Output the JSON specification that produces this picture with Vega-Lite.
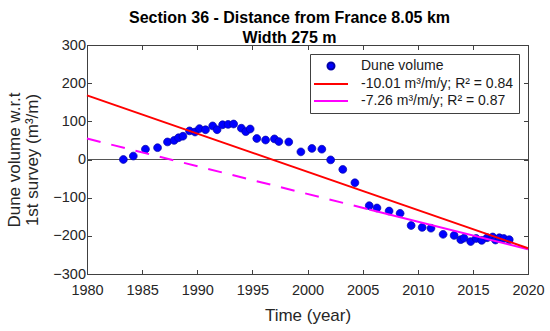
{
  "$schema": "https://vega.github.io/schema/vega-lite/v6.json",
  "width": 441,
  "height": 229,
  "autosize": {"type": "none"},
  "padding": {"left": 87, "top": 45, "right": 22, "bottom": 57},
  "background": "white",
  "title": {
    "text": ["Section 36 - Distance from France 8.05 km", "Width 275 m"],
    "anchor": "middle",
    "frame": "group",
    "dx": -18,
    "offset": -9,
    "font": "Liberation Sans",
    "fontSize": 16,
    "fontWeight": "bold",
    "color": "black",
    "lineHeight": 20
  },
  "config": {
    "font": "Liberation Sans",
    "view": {"stroke": "#404040", "strokeWidth": 1},
    "axis": {
      "grid": false,
      "domainColor": "#404040",
      "tickColor": "#404040",
      "tickSize": -4.5,
      "labelFlush": false,
      "labelOverlap": false,
      "labelFont": "Liberation Sans",
      "labelFontSize": 14.5,
      "labelColor": "#262626",
      "titleFont": "Liberation Sans",
      "titleFontSize": 17,
      "titleFontWeight": "normal",
      "titleColor": "#262626"
    }
  },
  "datasets": {
    "points": [
      {"year": 1983.3, "value": 0, "series": "Dune volume"},
      {"year": 1984.2, "value": 9, "series": "Dune volume"},
      {"year": 1985.3, "value": 27, "series": "Dune volume"},
      {"year": 1986.4, "value": 31, "series": "Dune volume"},
      {"year": 1987.3, "value": 46, "series": "Dune volume"},
      {"year": 1987.9, "value": 50, "series": "Dune volume"},
      {"year": 1988.3, "value": 57, "series": "Dune volume"},
      {"year": 1988.7, "value": 61, "series": "Dune volume"},
      {"year": 1989.3, "value": 75, "series": "Dune volume"},
      {"year": 1989.8, "value": 72, "series": "Dune volume"},
      {"year": 1990.2, "value": 81, "series": "Dune volume"},
      {"year": 1990.75, "value": 78, "series": "Dune volume"},
      {"year": 1991.4, "value": 88, "series": "Dune volume"},
      {"year": 1991.8, "value": 78, "series": "Dune volume"},
      {"year": 1992.3, "value": 91, "series": "Dune volume"},
      {"year": 1992.8, "value": 92, "series": "Dune volume"},
      {"year": 1993.3, "value": 93, "series": "Dune volume"},
      {"year": 1994.0, "value": 82, "series": "Dune volume"},
      {"year": 1994.4, "value": 73, "series": "Dune volume"},
      {"year": 1994.8, "value": 80, "series": "Dune volume"},
      {"year": 1995.4, "value": 55, "series": "Dune volume"},
      {"year": 1996.2, "value": 51, "series": "Dune volume"},
      {"year": 1997.0, "value": 54, "series": "Dune volume"},
      {"year": 1997.4, "value": 47, "series": "Dune volume"},
      {"year": 1998.3, "value": 46, "series": "Dune volume"},
      {"year": 1999.4, "value": 20, "series": "Dune volume"},
      {"year": 2000.4, "value": 29, "series": "Dune volume"},
      {"year": 2001.3, "value": 27, "series": "Dune volume"},
      {"year": 2002.1, "value": -1, "series": "Dune volume"},
      {"year": 2003.2, "value": -26, "series": "Dune volume"},
      {"year": 2004.3, "value": -61, "series": "Dune volume"},
      {"year": 2005.6, "value": -121, "series": "Dune volume"},
      {"year": 2006.3, "value": -127, "series": "Dune volume"},
      {"year": 2007.4, "value": -135, "series": "Dune volume"},
      {"year": 2008.4, "value": -141, "series": "Dune volume"},
      {"year": 2009.4, "value": -173, "series": "Dune volume"},
      {"year": 2010.4, "value": -178, "series": "Dune volume"},
      {"year": 2011.2, "value": -180, "series": "Dune volume"},
      {"year": 2012.3, "value": -196, "series": "Dune volume"},
      {"year": 2013.3, "value": -199, "series": "Dune volume"},
      {"year": 2013.9, "value": -210, "series": "Dune volume"},
      {"year": 2014.2, "value": -206, "series": "Dune volume"},
      {"year": 2014.8, "value": -215, "series": "Dune volume"},
      {"year": 2015.3, "value": -207, "series": "Dune volume"},
      {"year": 2015.8, "value": -212, "series": "Dune volume"},
      {"year": 2016.3, "value": -205, "series": "Dune volume"},
      {"year": 2016.8, "value": -203, "series": "Dune volume"},
      {"year": 2017.05, "value": -211, "series": "Dune volume"},
      {"year": 2017.4, "value": -205, "series": "Dune volume"},
      {"year": 2017.8, "value": -207, "series": "Dune volume"},
      {"year": 2018.3, "value": -210, "series": "Dune volume"}
    ],
    "fits": [
      {"year": 1980, "value": 168, "series": "-10.01 m³/m/y; R² = 0.84", "part": "all"},
      {"year": 2020, "value": -232.4, "series": "-10.01 m³/m/y; R² = 0.84", "part": "all"},
      {"year": 1980, "value": 55, "series": "-7.26 m³/m/y; R² = 0.87", "part": "dashed"},
      {"year": 2005.6, "value": -130.9, "series": "-7.26 m³/m/y; R² = 0.87", "part": "dashed"},
      {"year": 2005.6, "value": -130.9, "series": "-7.26 m³/m/y; R² = 0.87", "part": "solid"},
      {"year": 2020, "value": -235.4, "series": "-7.26 m³/m/y; R² = 0.87", "part": "solid"}
    ],
    "zero": [{"value": 0}]
  },
  "resolve": {"axis": {"x": "independent", "y": "independent"}},
  "layer": [
    {
      "data": {"name": "zero"},
      "mark": {"type": "rule", "color": "#555555", "strokeWidth": 1},
      "encoding": {
        "y": {"field": "value", "type": "quantitative", "scale": {"domain": [-300, 300], "nice": false, "zero": false}, "axis": null}
      }
    },
    {
      "data": {"name": "points"},
      "mark": {"type": "point", "filled": true, "fill": "#0000ff", "size": 125, "strokeWidth": 0.7, "opacity": 1},
      "encoding": {
        "x": {"field": "year", "type": "quantitative", "scale": {"domain": [1980, 2020], "nice": false, "zero": false},
          "axis": {"orient": "bottom", "title": "Time (year)", "format": "d", "values": [1980, 1985, 1990, 1995, 2000, 2005, 2010, 2015, 2020], "labelPadding": 14, "titlePadding": 10}},
        "y": {"field": "value", "type": "quantitative", "scale": {"domain": [-300, 300], "nice": false, "zero": false},
          "axis": {"orient": "left", "title": ["Dune volume w.r.t", "1st survey (m³/m)"], "values": [-300, -200, -100, 0, 100, 200, 300], "labelPadding": 6, "titlePadding": 11, "titleLineHeight": 18}},
        "stroke": {
          "field": "series", "type": "nominal",
          "scale": {
            "domain": ["Dune volume", "-10.01 m³/m/y; R² = 0.84", "-7.26 m³/m/y; R² = 0.87"],
            "range": ["#0000a8", "#ff0000", "#ff00ff"]
          },
          "legend": {
            "title": null,
            "orient": "top-right",
            "offset": 9,
            "padding": 5,
            "rowPadding": 3,
            "symbolSize": 100,
            "symbolStrokeWidth": 2,
            "symbolOffset": 9,
            "labelOffset": 23,
            "labelFont": "Liberation Sans",
            "labelFontSize": 14,
            "labelColor": "#1a1a1a",
            "labelLimit": 0,
            "strokeColor": "#404040",
            "fillColor": "white",
            "cornerRadius": 0
          }
        },
        "shape": {
          "field": "series", "type": "nominal",
          "scale": {
            "domain": ["Dune volume", "-10.01 m³/m/y; R² = 0.84", "-7.26 m³/m/y; R² = 0.87"],
            "range": ["M-0.7,0A0.7,0.7,0,1,0,0.7,0A0.7,0.7,0,1,0,-0.7,0Z", "M-3.4,0H3.4", "M-3.4,0H3.4"]
          },
          "legend": {
            "title": null,
            "orient": "top-right",
            "offset": 9,
            "padding": 5,
            "rowPadding": 3,
            "symbolSize": 100,
            "symbolStrokeWidth": 2,
            "symbolOffset": 9,
            "labelOffset": 23,
            "labelFont": "Liberation Sans",
            "labelFontSize": 14,
            "labelColor": "#1a1a1a",
            "labelLimit": 0,
            "strokeColor": "#404040",
            "fillColor": "white",
            "cornerRadius": 0
          }
        }
      }
    },
    {
      "data": {"name": "fits"},
      "transform": [{"filter": "datum.part === 'dashed'"}],
      "mark": {"type": "line", "strokeWidth": 2, "strokeDash": [14, 11]},
      "encoding": {
        "x": {"field": "year", "type": "quantitative", "scale": {"domain": [1980, 2020], "nice": false, "zero": false}, "axis": null},
        "y": {"field": "value", "type": "quantitative", "scale": {"domain": [-300, 300], "nice": false, "zero": false}, "axis": null},
        "stroke": {"field": "series", "type": "nominal"}
      }
    },
    {
      "data": {"name": "fits"},
      "transform": [{"filter": "datum.part === 'solid'"}],
      "mark": {"type": "line", "strokeWidth": 2},
      "encoding": {
        "x": {"field": "year", "type": "quantitative", "scale": {"domain": [1980, 2020], "nice": false, "zero": false}, "axis": null},
        "y": {"field": "value", "type": "quantitative", "scale": {"domain": [-300, 300], "nice": false, "zero": false}, "axis": null},
        "stroke": {"field": "series", "type": "nominal"}
      }
    },
    {
      "data": {"name": "fits"},
      "transform": [{"filter": "datum.part === 'all'"}],
      "mark": {"type": "line", "strokeWidth": 2},
      "encoding": {
        "x": {"field": "year", "type": "quantitative", "scale": {"domain": [1980, 2020], "nice": false, "zero": false},
          "axis": {"orient": "top", "labels": false, "title": null, "values": [1980, 1985, 1990, 1995, 2000, 2005, 2010, 2015, 2020]}},
        "y": {"field": "value", "type": "quantitative", "scale": {"domain": [-300, 300], "nice": false, "zero": false},
          "axis": {"orient": "right", "labels": false, "title": null, "values": [-300, -200, -100, 0, 100, 200, 300]}},
        "stroke": {"field": "series", "type": "nominal"}
      }
    }
  ]
}
